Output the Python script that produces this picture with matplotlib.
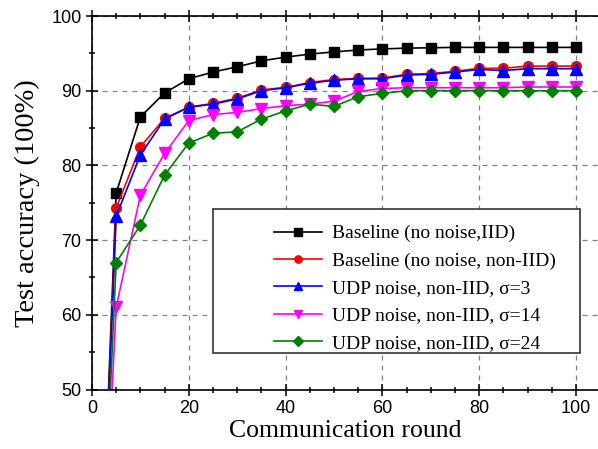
import matplotlib
matplotlib.use("Agg")
import matplotlib.pyplot as plt
from matplotlib.patches import Rectangle
from matplotlib.ticker import MultipleLocator

rounds = [1, 5, 10, 15, 20, 25, 30, 35, 40, 45, 50,
          55, 60, 65, 70, 75, 80, 85, 90, 95, 100]
baseline_iid = [10, 76.3, 86.5, 89.7, 91.6, 92.5, 93.2, 94.0, 94.5, 94.9, 95.2,
                95.45, 95.6, 95.7, 95.75, 95.8, 95.8, 95.8, 95.8, 95.8, 95.8]
baseline_noniid = [10, 74.3, 82.5, 86.3, 87.8, 88.3, 89.0, 90.1, 90.45, 91.1, 91.5,
                   91.65, 91.7, 92.2, 92.3, 92.6, 93.0, 93.0, 93.3, 93.3, 93.3]
udp_s3 = [10, 73.2, 81.4, 86.2, 87.8, 88.2, 88.9, 90.0, 90.4, 91.0, 91.4,
          91.6, 91.6, 92.1, 92.2, 92.5, 92.85, 92.7, 92.95, 92.95, 92.95]
udp_s14 = [8, 61.0, 76.0, 81.6, 86.0, 86.8, 87.1, 87.6, 88.0, 88.2, 88.6,
           89.9, 90.3, 90.4, 90.4, 90.4, 90.4, 90.4, 90.5, 90.5, 90.5]
udp_s24 = [10, 67.0, 72.0, 78.7, 83.0, 84.3, 84.5, 86.2, 87.3, 88.2, 87.9,
           89.2, 89.65, 90.0, 90.0, 90.0, 90.0, 90.0, 90.0, 90.0, 90.0]

series = [
    ("Baseline (no noise,IID)", baseline_iid, "black", "s", 7),
    ("Baseline (no noise, non-IID)", baseline_noniid, "#ff0000", "o", 7),
    ("UDP noise, non-IID, \u03c3=3", udp_s3, "#0000ff", "^", 8.5),
    ("UDP noise, non-IID, \u03c3=14", udp_s14, "#ff00ff", "v", 8.5),
    ("UDP noise, non-IID, \u03c3=24", udp_s24, "#008000", "D", 6.5),
]

serif = "Liberation Serif"
sans = "Liberation Sans"

fig = plt.figure(figsize=(5.98, 4.49), dpi=100)
ax = fig.add_axes([0.1538, 0.1325, 0.846, 0.8318])

for label, vals, color, marker, ms in series:
    ax.plot(rounds, vals, color=color, marker=marker, markersize=ms,
            markeredgecolor=color, linewidth=1.2, label=label)

ax.set_xlim(0, 104.5)
ax.set_ylim(50, 100)
ax.xaxis.set_major_locator(MultipleLocator(20))
ax.xaxis.set_minor_locator(MultipleLocator(5))
ax.yaxis.set_major_locator(MultipleLocator(10))
ax.yaxis.set_minor_locator(MultipleLocator(5))
ax.grid(True, which="major", linestyle=(0, (4, 4)), color="#808080", linewidth=0.9)
ax.set_axisbelow(True)

ax.tick_params(which="both", direction="inout", top=True, right=False, width=1.1)
ax.tick_params(which="major", length=8)
ax.tick_params(which="minor", length=5)
for lab in ax.get_xticklabels() + ax.get_yticklabels():
    lab.set_fontfamily(sans)
    lab.set_fontsize(13)
for sp in ax.spines.values():
    sp.set_linewidth(1.2)
ax.spines["right"].set_visible(False)

ax.set_xlabel("Communication round", fontfamily=serif, fontsize=18.5, labelpad=2)
ax.set_ylabel("Test accuracy (100%)", fontfamily=serif, fontsize=20.5, labelpad=8)

# legend box drawn by hand, legend itself without frame on top
box = Rectangle((213 / 598, 1 - 352.7 / 449), 367 / 598, 143.7 / 449,
                transform=fig.transFigure, facecolor="white",
                edgecolor="#333333", linewidth=1.2, zorder=4, clip_on=False)
ax.add_patch(box)

leg = ax.legend(loc="upper left", bbox_to_anchor=(264 / 598, 1 - 215 / 449),
                bbox_transform=fig.transFigure, frameon=False, borderpad=0,
                prop={"family": serif, "size": 14}, handlelength=2.5,
                handletextpad=0.5, labelspacing=0.5, markerscale=0.75)
leg.set_zorder(5)

fig.savefig("out.png", dpi=100)
